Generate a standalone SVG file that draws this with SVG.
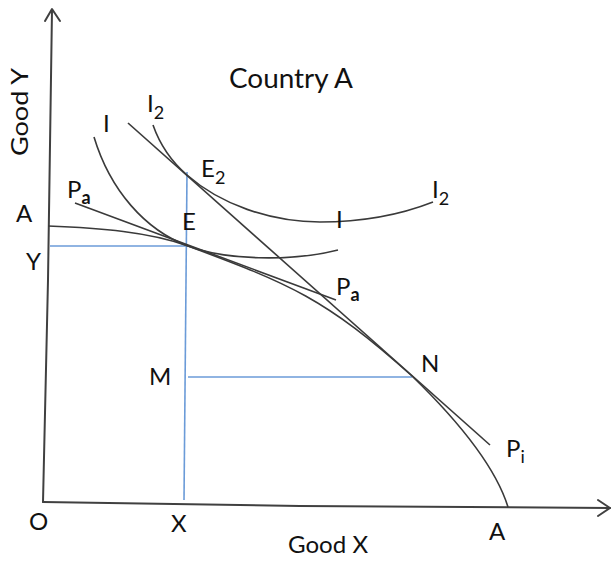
<svg xmlns="http://www.w3.org/2000/svg" width="612" height="561" viewBox="0 0 612 561">
<style>
.ax{fill:none;stroke:#404040;stroke-width:2;stroke-linecap:round;stroke-linejoin:round}
.cv{fill:none;stroke:#3a3a3a;stroke-width:1.6}
.bl{fill:none;stroke:#6b9bd8;stroke-width:1.6}
text{font-family:Lato,"Open Sans","Liberation Sans",sans-serif;fill:#111}
.lb{font-size:24px}
.sub{font-size:18px}
</style>
<rect width="612" height="561" fill="#fff"/>
<g id="axes">
<polyline class="ax" points="43,502 48,280 52,10"/>
<polyline class="ax" points="45,21 52,9 60,21"/>
<polyline class="ax" points="43,502 300,506 610,508"/>
<polyline class="ax" points="598,500 610,508 598,516"/>
</g>
<g id="connectors">
<line class="bl" x1="50" y1="246" x2="188" y2="246"/>
<line class="bl" x1="187" y1="172" x2="184" y2="500"/>
<line class="bl" x1="188" y1="377" x2="412" y2="377"/>
</g>
<g id="ppf"><path class="cv" d="M48,226 C100,228 150,232 188,246 C290,284 325,298 412,376 C447,410 494,462 508,507"/></g>
<g id="Pa"><line class="cv" x1="75" y1="203" x2="336" y2="300"/></g>
<g id="Pi"><line class="cv" x1="128" y1="123" x2="490" y2="445"/></g>
<g id="I"><path class="cv" d="M94,137 C110,190 145,230 188,246 C225,260 290,262 338,250"/></g>
<g id="I2"><path class="cv" d="M153,125 C160,145 172,162 187,175 C220,204 270,222 320,222 C365,222 405,213 433,202"/></g>
<g id="labels">
<text x="20" y="112" text-anchor="middle" transform="rotate(-90 20 112)" dy="8" style="font-size:23px" textLength="88" lengthAdjust="spacingAndGlyphs">Good Y</text>
<text x="229" y="88" style="font-size:26px" textLength="124" lengthAdjust="spacingAndGlyphs">Country A</text>
<text x="147" y="112" class="lb">I<tspan class="sub" dy="7">2</tspan></text>
<text x="103" y="132" class="lb">I</text>
<text x="67" y="198" class="lb">P<tspan class="sub" dy="6" font-weight="bold">a</tspan></text>
<text x="16" y="222" class="lb">A</text>
<text x="26" y="270" class="lb">Y</text>
<text x="182" y="230" class="lb">E</text>
<text x="201" y="177" class="lb">E<tspan class="sub" dy="7">2</tspan></text>
<text x="432" y="198" class="lb">I<tspan class="sub" dy="7">2</tspan></text>
<text x="336" y="228" class="lb">I</text>
<text x="336" y="295" class="lb">P<tspan class="sub" dy="6" font-weight="bold">a</tspan></text>
<text x="421" y="372" class="lb">N</text>
<text x="506" y="457" class="lb">P<tspan class="sub" dy="6">i</tspan></text>
<text x="149" y="385" class="lb">M</text>
<text x="29" y="530" class="lb">O</text>
<text x="171" y="532" class="lb">X</text>
<text x="489" y="540" class="lb">A</text>
<text x="288" y="553" style="font-size:24px" textLength="80" lengthAdjust="spacingAndGlyphs">Good X</text>
</g>
</svg>
